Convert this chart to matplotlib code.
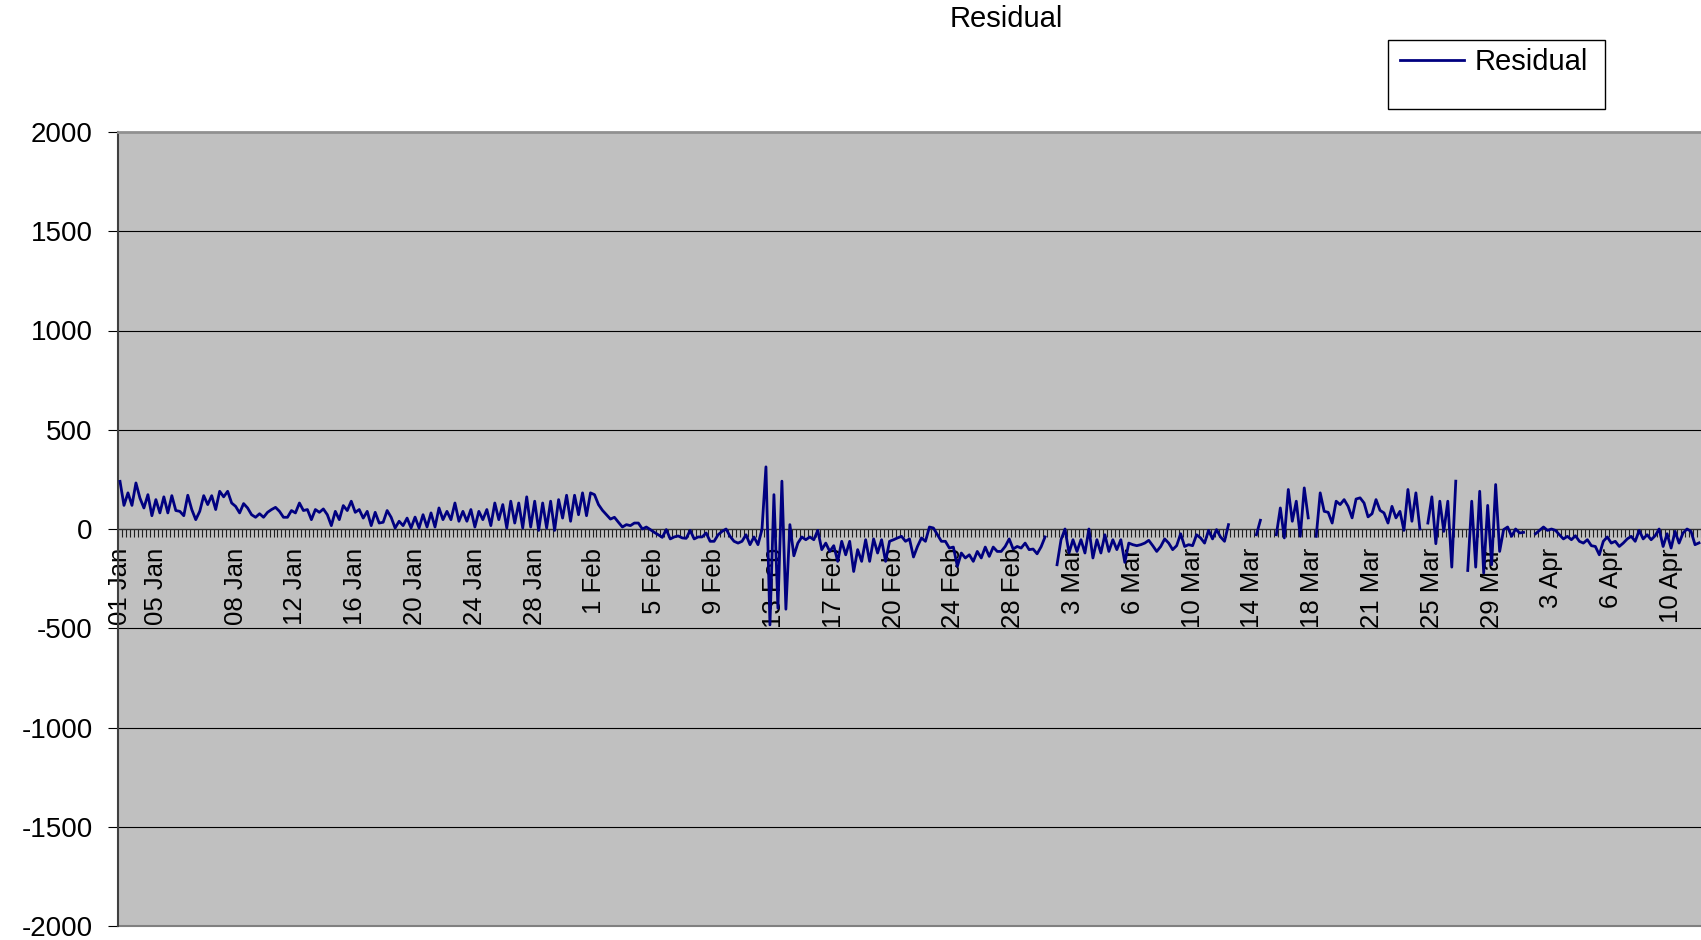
import numpy as np
import matplotlib
matplotlib.use('Agg')
from matplotlib import pyplot as plt
from matplotlib.patches import Rectangle

nan = np.nan

# residual values, one per category (gaps = nan)
part_a = [240, 119, 182, 119, 232, 156, 106, 173, 67, 148,
          81, 162, 81, 168, 93, 89, 67, 170, 98, 47,
          89, 168, 123, 168, 98, 190, 162, 190, 131, 114,
          81, 128, 106, 72, 59, 77, 59, 84, 98, 109,
          89, 59, 59, 93, 81, 131, 93, 98, 47, 98,
          84, 101, 72, 17, 89, 47, 118, 93, 140, 84,
          98, 55, 89, 17, 84, 30, 34, 93, 59, 5,
          39, 17, 55, 5, 60, 5, 72, 10, 81, 10]
part_b = [106, 47, 89, 47, 131, 39, 89, 39, 98, 10,
          89, 47, 98, 17, 131, 47, 123, 5, 140, 30,
          131, 5, 162, 10, 140, -7, 131, 5, 140, -7,
          148, 55, 170, 39, 170, 72, 182, 67, 182, 173,
          123, 94, 72, 50, 59, 34, 10, 22, 17, 30,
          30, 0, 10, -3, -17, -29, -42, -3, -50, -40,
          -35, -45, -47, -7, -50, -40, -40, -20, -62, -62, -29, -12,
          0, -37, -62, -71, -62, -29, -79, -40, -79, -3,
          313, -483, 173, -399, 241, -404, 22, -135, -71, -40,
          -54, -40, -54, -7, -104, -71, -113, -84, -163, -62,
          -130]
part_c = [-62, -214, -104, -163, -54, -163, -50, -121, -54, -163,
          -62, -54, -45, -37, -62, -50, -141, -88, -45, -62,
          10, 5, -29, -62, -62, -96, -91, -188, -121, -146,
          -130, -163, -113, -146, -91, -138, -91, -113, -113, -88,
          -50, -101, -88, -96, -71, -104, -101, -125, -90, -40,
          nan, nan,
          -180, -54, 0, -121, -54, -113, -54, -121, 0, -146,
          -54, -121, -29, -113, -54, -104, -54, -168, -71, -79,
          -84, -79, -71, -57, -84, -113, -88, -50, -71, -104,
          -84, -24, -88, -79, -84, -29, -45, -71, -7, -50,
          -3, -40, -62, 22,
          nan, nan, nan, nan, nan, nan,
          -29, 44]
part_d = [nan, nan, nan,
          -29, 106, -45, 199, 39, 140, -37, 207, 56,
          nan,
          -37, 182, 89, 84, 30, 140, 123, 148, 114, 56,
          151, 157, 131, 61, 77, 148, 94, 81, 30, 114,
          56, 89, -7, 199, 39, 182, 0,
          nan,
          30, 162, -74, 140, -12, 140, -192, 241,
          nan, nan,
          -209, 140, -192, 190, -222, 119,
          -180, 224, -113, -3, 10, -37, 0, -20, -17,
          nan, nan,
          -24, -7, 10, -7, 0, -7, -29, -50,
          -37, -54, -34, -62, -71, -54, -84, -88, -130,
          -62, -40, -71, -62, -88, -71, -50, -37, -62,
          -7, -50, -29, -54, -34, 0, -88, -24, -96, -12,
          -71, -20, 0, -12, -79, -70]

tick_labels = ['01 Jan', '05 Jan', '08 Jan', '12 Jan', '16 Jan', '20 Jan', '24 Jan', '28 Jan',
               '1 Feb', '5 Feb', '9 Feb', '13 Feb', '17 Feb', '20 Feb', '24 Feb', '28 Feb',
               '3 Mar', '6 Mar', '10 Mar', '14 Mar', '18 Mar', '21 Mar', '25 Mar', '29 Mar',
               '3 Apr', '6 Apr', '10 Apr']
tick_index = [0, 9, 29, 44, 59, 74, 89, 104, 119, 134, 149, 164, 179, 194, 209, 224,
              239, 254, 269, 284, 299, 314, 329, 344, 359, 374, 389]

residual = np.array(part_a + part_b + part_c + part_d, dtype=float)
n = len(residual)
x = np.arange(n)

plt.rcParams['font.family'] = ['Liberation Sans', 'DejaVu Sans']
plt.rcParams['axes.unicode_minus'] = False

fig = plt.figure(figsize=(17.01, 9.40), dpi=100)
ax = fig.add_axes([118 / 1701, 14 / 940, 1583 / 1701, 794 / 940])
ax.set_facecolor('#c0c0c0')

for v in range(-1500, 2000, 500):
    if v != 0:
        ax.axhline(v, color='black', lw=0.8, zorder=1)
ax.axhline(-2000, color='#808080', lw=1.5, zorder=1, clip_on=False)

line, = ax.plot(x, residual, color='#000080', lw=2.0, zorder=3, label='Residual')

ax.set_xlim(-0.5, n - 0.5)
ax.set_ylim(-2000, 2000)
ax.set_yticks(range(-2000, 2001, 500))
ax.tick_params(axis='y', length=7.2, width=0.8, pad=11, labelsize=20, color='black')

ax.spines['right'].set_visible(False)
ax.spines['top'].set_color('#909090')
ax.spines['top'].set_linewidth(2)
ax.spines['left'].set_color('#404040')
ax.spines['left'].set_linewidth(1.5)
ax.spines['bottom'].set_position(('data', 0))
ax.spines['bottom'].set_color('#303030')
ax.spines['bottom'].set_linewidth(1)
ax.spines['bottom'].set_zorder(2)

ax.set_xticks(tick_index)
ax.set_xticklabels(tick_labels, rotation=90, ha='center', va='top', fontsize=18.5)
ax.set_xticks(np.arange(n + 1) - 0.5, minor=True)
ax.tick_params(axis='x', which='major', length=0, pad=13.7)
ax.tick_params(axis='x', which='minor', length=5.8, width=0.8, color='#202020', direction='out')

fig.text(1006 / 1701, 1 - 19 / 940, 'Residual', ha='center', va='center', fontsize=21)

# legend box is bigger than its content, so draw the frame separately
fig.patches.append(Rectangle((1388 / 1701, 1 - 109 / 940), 217 / 1701, 69 / 940,
                             transform=fig.transFigure, facecolor='white',
                             edgecolor='black', lw=1, zorder=0))
fig.legend(handles=[line], loc='center left', bbox_to_anchor=(1400 / 1701, 1 - 62 / 940),
           frameon=False, borderpad=0, borderaxespad=0, handlelength=2.2,
           handletextpad=0.35, fontsize=21)

plt.savefig('out.png', dpi=100, facecolor='white')
